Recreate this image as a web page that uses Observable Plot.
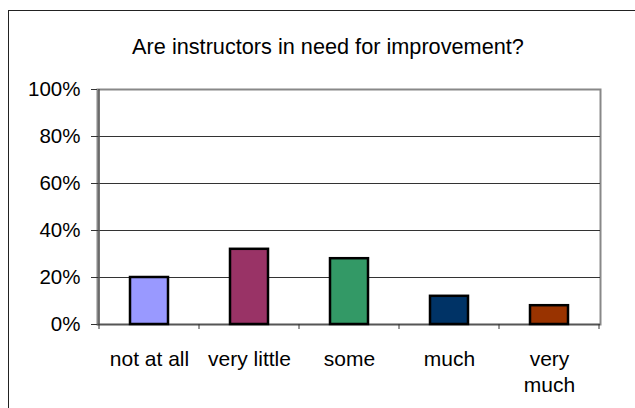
<!DOCTYPE html>
<html>
<head>
<meta charset="utf-8">
<script src="https://cdn.jsdelivr.net/npm/d3@7"></script>
<script src="https://cdn.jsdelivr.net/npm/@observablehq/plot@0.6"></script>
<style>
  html, body { margin: 0; padding: 0; background: #fff; overflow: hidden; }
  #wrap { position: relative; width: 635px; height: 408px; overflow: hidden; font-family: Arial, "Liberation Sans", sans-serif; }
  #border { position: absolute; left: 8px; top: 10px; width: 700px; height: 500px; border-left: 1.5px solid #222; border-top: 1.5px solid #222; box-sizing: border-box; }
  #title { position: absolute; left: 0; width: 656px; top: 36px; text-align: center; font-size: 21.7px; line-height: 22px; color: #000; }
  #chart { position: absolute; left: 0; top: 0; }
</style>
</head>
<body>
<div id="wrap">
  <div id="border"></div>
  <div id="chart"></div>
  <div id="title">Are instructors in need for improvement?</div>
</div>
<script>
const categories = ["not at all", "very little", "some", "much", "very much"];
const values = [0.20, 0.32, 0.28, 0.12, 0.08];
const colors = ["#9999FF", "#993366", "#339966", "#003366", "#993300"];
const yTicks = [0, 0.2, 0.4, 0.6, 0.8, 1.0];
const tickLabels = {"very much": "very\nmuch"};

const data = categories.map((c, i) => ({category: c, value: values[i], color: colors[i]}));

// left axis line and category-boundary ticks drawn from the x scale
function boundaryMark(index, scales, vals, dims) {
  const x = scales.x, y = scales.y;
  const bw = x.bandwidth ? x.bandwidth() : 0;
  const g = d3.create("svg:g");
  const y0 = y(0);
  const xs = categories.map(c => x(c)).concat([x(categories[categories.length - 1]) + bw]);
  g.selectAll("line.t").data(xs).join("line")
    .attr("x1", d => d).attr("x2", d => d)
    .attr("y1", y0).attr("y2", y0 + 5)
    .attr("stroke", "#333").attr("stroke-width", 1);
  g.append("line")
    .attr("x1", xs[0]).attr("x2", xs[0])
    .attr("y1", y(1)).attr("y2", y0)
    .attr("stroke", "#555").attr("stroke-width", 1.6);
  return g.node();
}

const plot = Plot.plot({
  width: 635,
  height: 408,
  marginLeft: 97,
  marginRight: 35,
  marginTop: 89,
  marginBottom: 84,
  style: {fontFamily: "Arial, 'Liberation Sans', sans-serif", background: "transparent", overflow: "visible"},
  x: {domain: categories, padding: 0},
  y: {domain: [0, 1]},
  marks: [
    Plot.frame({stroke: "#888", strokeWidth: 2}),
    Plot.ruleY(yTicks.slice(1, -1), {stroke: "#333", strokeWidth: 1}),
    Plot.ruleY([0], {stroke: "#555", strokeWidth: 1.6}),
    Plot.barY(data, {x: "category", y: "value", fill: "color", stroke: "#000", strokeWidth: 2.5, insetLeft: 31, insetRight: 31}),
    boundaryMark,
    Plot.axisY({ticks: yTicks, tickFormat: d3.format(".0%"), tickSize: 6, tickPadding: 11, fontSize: 20.5, stroke: "#333", fill: "#000", label: null}),
    Plot.axisX({tickSize: 0, tickPadding: 24, fontSize: 21, fill: "#000", lineHeight: 1.2, label: null,
      tickFormat: d => tickLabels[d] || d})
  ]
});
document.getElementById("chart").appendChild(plot);
</script>
</body>
</html>
